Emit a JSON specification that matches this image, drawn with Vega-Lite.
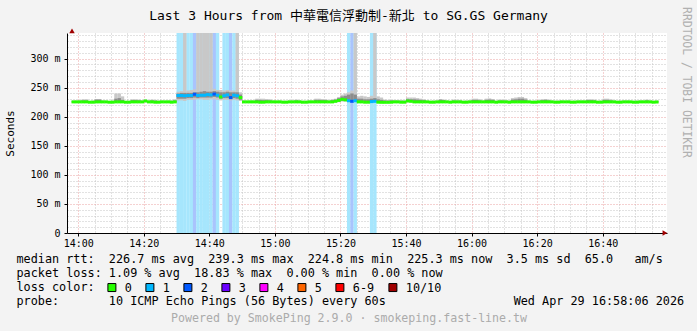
{
"$schema": "https://vega.github.io/schema/vega-lite/v6.json",
"width": 600, "height": 200,
"autosize": {"type": "none"},
"padding": {"left": 67, "top": 33, "right": 30, "bottom": 98},
"background": "#f3f3f3",
"config": {"view": {"fill": "#ffffff", "stroke": null}, "font": "DejaVu Sans Mono"},
"title": {"text": "Last 3 Hours from 中華電信浮動制-新北 to SG.GS Germany", "font": "DejaVu Sans Mono, Noto Sans CJK TC", "fontSize": 13, "fontWeight": "normal", "color": "#000000", "anchor": "middle", "frame": "group", "dx": -18.5, "offset": -16},
"datasets": {"s": [
{"t":-2,"m":225.5,"l":"0","lo":224,"hi":227.5,"a":225,"b":226.5},
{"t":-1,"m":225.5,"l":"0","lo":224,"hi":228,"a":225,"b":226.5},
{"t":0,"m":225.5,"l":"0","lo":224,"hi":228.5,"a":225,"b":226.5},
{"t":1,"m":225.5,"l":"0","lo":224,"hi":230,"a":225,"b":228},
{"t":2,"m":225.5,"l":"0","lo":224,"hi":230,"a":225,"b":228},
{"t":3,"m":225,"l":"0","lo":223.5,"hi":227,"a":224.5,"b":226},
{"t":4,"m":225,"l":"0","lo":223.5,"hi":228,"a":224.5,"b":226},
{"t":5,"m":225.5,"l":"0","lo":224,"hi":230.5,"a":225,"b":229.5},
{"t":6,"m":225.5,"l":"0","lo":224,"hi":230.5,"a":225,"b":229.5},
{"t":7,"m":225.5,"l":"0","lo":224,"hi":228,"a":225,"b":226.5},
{"t":8,"m":225.5,"l":"0","lo":224,"hi":227.5,"a":225,"b":226.5},
{"t":9,"m":225,"l":"0","lo":223.5,"hi":227,"a":224.5,"b":226},
{"t":10,"m":225,"l":"0","lo":223.5,"hi":228,"a":224.5,"b":226},
{"t":11,"m":225.5,"l":"0","lo":224,"hi":240,"a":225,"b":231},
{"t":12,"m":225.5,"l":"0","lo":224,"hi":240,"a":225,"b":232},
{"t":13,"m":225.5,"l":"0","lo":224,"hi":235,"a":225,"b":229},
{"t":14,"m":225,"l":"0","lo":223.5,"hi":227,"a":224.5,"b":226},
{"t":15,"m":225,"l":"0","lo":223.5,"hi":227.5,"a":224.5,"b":226},
{"t":16,"m":225.5,"l":"0","lo":224,"hi":230,"a":225,"b":228.5},
{"t":17,"m":225.5,"l":"0","lo":224,"hi":230,"a":225,"b":228.5},
{"t":18,"m":225.5,"l":"0","lo":224,"hi":229.5,"a":225,"b":228},
{"t":19,"m":225.5,"l":"0","lo":224,"hi":228,"a":225,"b":226.5},
{"t":20,"m":227,"l":"0","lo":225,"hi":229.5,"a":226,"b":228.5},
{"t":21,"m":225.5,"l":"0","lo":224,"hi":228,"a":225,"b":226.5},
{"t":22,"m":225.5,"l":"0","lo":224,"hi":229.5,"a":225,"b":228},
{"t":23,"m":225,"l":"0","lo":223.5,"hi":229,"a":224.5,"b":227.5},
{"t":24,"m":225,"l":"0","lo":223.5,"hi":228,"a":224.5,"b":226},
{"t":25,"m":225.5,"l":"0","lo":224,"hi":228,"a":225,"b":226.5},
{"t":26,"m":225.5,"l":"0","lo":224,"hi":227.5,"a":225,"b":226.5},
{"t":27,"m":225.5,"l":"0","lo":224,"hi":228,"a":225,"b":226.5},
{"t":28,"m":225,"l":"0","lo":223.5,"hi":228.5,"a":224.5,"b":226},
{"t":29,"m":225.5,"l":"0","lo":224,"hi":230,"a":225,"b":228},
{"t":30,"m":236.5,"l":"1","lo":228,"hi":243,"a":231,"b":240},
{"t":31,"m":236.5,"l":"1","lo":228,"hi":244,"a":231,"b":241},
{"t":32,"m":236,"l":"1","lo":227,"hi":400,"a":231,"b":241},
{"t":33,"m":236.5,"l":"1","lo":229,"hi":245,"a":232,"b":241},
{"t":34,"m":236.5,"l":"1","lo":229,"hi":246,"a":232,"b":241},
{"t":35,"m":238.5,"l":"2","lo":229,"hi":247,"a":233,"b":242},
{"t":36,"m":236.5,"l":"1","lo":230,"hi":400,"a":232,"b":242},
{"t":37,"m":237,"l":"1","lo":230,"hi":400,"a":233,"b":243},
{"t":38,"m":237,"l":"1","lo":229,"hi":400,"a":233,"b":244},
{"t":39,"m":238,"l":"1","lo":229,"hi":400,"a":233,"b":243},
{"t":40,"m":237.5,"l":"1","lo":230,"hi":400,"a":233,"b":243},
{"t":41,"m":239,"l":"2","lo":230,"hi":248,"a":234,"b":244},
{"t":42,"m":237,"l":"1","lo":229,"hi":246,"a":233,"b":243},
{"t":43,"m":234,"l":"0","lo":228,"hi":246,"a":231,"b":242},
{"t":44,"m":236,"l":"1","lo":229,"hi":245,"a":232,"b":242},
{"t":45,"m":237.5,"l":"1","lo":229,"hi":246,"a":232,"b":243},
{"t":46,"m":233,"l":"2","lo":228,"hi":245,"a":230,"b":242},
{"t":47,"m":237,"l":"1","lo":229,"hi":245,"a":232,"b":242},
{"t":48,"m":236,"l":"1","lo":228,"hi":400,"a":231,"b":242},
{"t":49,"m":233,"l":"0","lo":227,"hi":242,"a":229,"b":238},
{"t":50,"m":225.5,"l":"0","lo":224,"hi":228,"a":225,"b":226.5},
{"t":51,"m":225.5,"l":"0","lo":224,"hi":227.5,"a":225,"b":226.5},
{"t":52,"m":225.5,"l":"0","lo":224,"hi":228,"a":225,"b":226.5},
{"t":53,"m":225.5,"l":"0","lo":224,"hi":228,"a":225,"b":226.5},
{"t":54,"m":225.5,"l":"0","lo":224,"hi":231,"a":225,"b":229},
{"t":55,"m":225,"l":"0","lo":223.5,"hi":231,"a":224.5,"b":229},
{"t":56,"m":225,"l":"0","lo":223.5,"hi":231,"a":224.5,"b":228.5},
{"t":57,"m":225.5,"l":"0","lo":224,"hi":230.5,"a":225,"b":228.5},
{"t":58,"m":225.5,"l":"0","lo":224,"hi":230,"a":225,"b":228},
{"t":59,"m":225.5,"l":"0","lo":224,"hi":228,"a":225,"b":226.5},
{"t":60,"m":225.5,"l":"0","lo":224,"hi":227.5,"a":225,"b":226.5},
{"t":61,"m":225.5,"l":"0","lo":224,"hi":228,"a":225,"b":226.5},
{"t":62,"m":225,"l":"0","lo":223.5,"hi":227.5,"a":224.5,"b":226},
{"t":63,"m":225,"l":"0","lo":223.5,"hi":227.5,"a":224.5,"b":226},
{"t":64,"m":225.5,"l":"0","lo":224,"hi":228,"a":225,"b":226.5},
{"t":65,"m":225.5,"l":"0","lo":224,"hi":228,"a":225,"b":226.5},
{"t":66,"m":225.5,"l":"0","lo":224,"hi":229.5,"a":225,"b":228},
{"t":67,"m":225.5,"l":"0","lo":224,"hi":228.5,"a":225,"b":226.5},
{"t":68,"m":225,"l":"0","lo":223.5,"hi":227.5,"a":224.5,"b":226},
{"t":69,"m":225,"l":"0","lo":223.5,"hi":227.5,"a":224.5,"b":226},
{"t":70,"m":225.5,"l":"0","lo":224,"hi":228,"a":225,"b":226.5},
{"t":71,"m":225.5,"l":"0","lo":224,"hi":228,"a":225,"b":226.5},
{"t":72,"m":225.5,"l":"0","lo":224,"hi":231,"a":225,"b":229},
{"t":73,"m":225.5,"l":"0","lo":224,"hi":231,"a":225,"b":229},
{"t":74,"m":225.5,"l":"0","lo":224,"hi":230.5,"a":225,"b":228.5},
{"t":75,"m":225.5,"l":"0","lo":224,"hi":230,"a":225,"b":228.5},
{"t":76,"m":225.5,"l":"0","lo":224,"hi":228,"a":225,"b":226.5},
{"t":77,"m":225.5,"l":"0","lo":224,"hi":230,"a":225,"b":228.5},
{"t":78,"m":226.5,"l":"0","lo":225,"hi":231,"a":226,"b":229.5},
{"t":79,"m":228,"l":"0","lo":225,"hi":234,"a":226,"b":232},
{"t":80,"m":230,"l":"0","lo":226,"hi":238,"a":227.5,"b":235},
{"t":81,"m":229,"l":"0","lo":226,"hi":240,"a":228,"b":236},
{"t":82,"m":227.5,"l":"1","lo":225,"hi":242,"a":227,"b":238},
{"t":83,"m":226.5,"l":"2","lo":225,"hi":245,"a":226.5,"b":240},
{"t":84,"m":227.5,"l":"1","lo":225,"hi":400,"a":227,"b":238},
{"t":85,"m":225.5,"l":"0","lo":224,"hi":235,"a":225,"b":231},
{"t":86,"m":225.5,"l":"0","lo":224,"hi":236,"a":225,"b":231},
{"t":87,"m":225,"l":"0","lo":223.5,"hi":235,"a":224.5,"b":230},
{"t":88,"m":225,"l":"0","lo":223.5,"hi":234,"a":224.5,"b":230},
{"t":89,"m":226,"l":"1","lo":224.5,"hi":236,"a":225.5,"b":231},
{"t":90,"m":226.5,"l":"1","lo":225,"hi":400,"a":226,"b":232},
{"t":91,"m":225,"l":"0","lo":223.5,"hi":235,"a":224.5,"b":230},
{"t":92,"m":224.8,"l":"0","lo":223.5,"hi":233,"a":224.5,"b":229},
{"t":93,"m":224.8,"l":"0","lo":223.5,"hi":229.5,"a":224.5,"b":228},
{"t":94,"m":224.8,"l":"0","lo":223.5,"hi":229,"a":224.5,"b":227.5},
{"t":95,"m":225,"l":"0","lo":223.5,"hi":229,"a":224.5,"b":228},
{"t":96,"m":225.5,"l":"0","lo":224,"hi":229,"a":225,"b":227},
{"t":97,"m":225.5,"l":"0","lo":224,"hi":228.5,"a":225,"b":226.5},
{"t":98,"m":225,"l":"0","lo":223.5,"hi":229,"a":224.5,"b":227},
{"t":99,"m":225,"l":"0","lo":223.5,"hi":228.5,"a":224.5,"b":226},
{"t":100,"m":227,"l":"0","lo":225,"hi":233,"a":226,"b":230},
{"t":101,"m":226.5,"l":"0","lo":225,"hi":233,"a":226,"b":230},
{"t":102,"m":225.5,"l":"0","lo":224,"hi":233,"a":225,"b":230},
{"t":103,"m":225.5,"l":"0","lo":224,"hi":232,"a":225,"b":229.5},
{"t":104,"m":225.5,"l":"0","lo":224,"hi":231,"a":225,"b":229},
{"t":105,"m":225.5,"l":"0","lo":224,"hi":230,"a":225,"b":228.5},
{"t":106,"m":225.5,"l":"0","lo":224,"hi":228,"a":225,"b":226.5},
{"t":107,"m":225,"l":"0","lo":223.5,"hi":227.5,"a":224.5,"b":226},
{"t":108,"m":225,"l":"0","lo":223.5,"hi":228,"a":224.5,"b":226},
{"t":109,"m":225.5,"l":"0","lo":224,"hi":228,"a":225,"b":226.5},
{"t":110,"m":225.5,"l":"0","lo":224,"hi":230,"a":225,"b":229.5},
{"t":111,"m":225.5,"l":"0","lo":224,"hi":229.5,"a":225,"b":228.5},
{"t":112,"m":225.5,"l":"0","lo":224,"hi":228,"a":225,"b":226.5},
{"t":113,"m":225,"l":"0","lo":223.5,"hi":227.5,"a":224.5,"b":226},
{"t":114,"m":225.5,"l":"0","lo":224,"hi":229.5,"a":225,"b":227.5},
{"t":115,"m":225.5,"l":"0","lo":224,"hi":229.5,"a":225,"b":227},
{"t":116,"m":225.5,"l":"0","lo":224,"hi":229,"a":225,"b":227},
{"t":117,"m":225,"l":"0","lo":223.5,"hi":227.5,"a":224.5,"b":226},
{"t":118,"m":225,"l":"0","lo":223.5,"hi":228,"a":224.5,"b":226},
{"t":119,"m":225.5,"l":"0","lo":224,"hi":228,"a":225,"b":226.5},
{"t":120,"m":225.5,"l":"0","lo":224,"hi":231,"a":225,"b":229},
{"t":121,"m":225.5,"l":"0","lo":224,"hi":231,"a":225,"b":229},
{"t":122,"m":225.5,"l":"0","lo":224,"hi":230,"a":225,"b":228},
{"t":123,"m":225.5,"l":"0","lo":224,"hi":228,"a":225,"b":226.5},
{"t":124,"m":225.5,"l":"0","lo":224,"hi":231,"a":225,"b":229},
{"t":125,"m":225.5,"l":"0","lo":224,"hi":231.5,"a":225,"b":229.5},
{"t":126,"m":225.5,"l":"0","lo":224,"hi":230.5,"a":225,"b":229},
{"t":127,"m":225,"l":"0","lo":223.5,"hi":227.5,"a":224.5,"b":226},
{"t":128,"m":225.5,"l":"0","lo":224,"hi":229.5,"a":225,"b":227.5},
{"t":129,"m":225.5,"l":"0","lo":224,"hi":229.5,"a":225,"b":227.5},
{"t":130,"m":225.5,"l":"0","lo":224,"hi":229,"a":225,"b":227},
{"t":131,"m":225,"l":"0","lo":223.5,"hi":228,"a":224.5,"b":226},
{"t":132,"m":225.5,"l":"0","lo":224,"hi":232,"a":225,"b":229.5},
{"t":133,"m":225.5,"l":"0","lo":224,"hi":233,"a":225,"b":230},
{"t":134,"m":225.5,"l":"0","lo":224,"hi":234,"a":225,"b":231},
{"t":135,"m":225.5,"l":"0","lo":224,"hi":234,"a":225,"b":231},
{"t":136,"m":225.5,"l":"0","lo":224,"hi":232,"a":225,"b":229.5},
{"t":137,"m":225.5,"l":"0","lo":224,"hi":228,"a":225,"b":226.5},
{"t":138,"m":225,"l":"0","lo":223.5,"hi":227.5,"a":224.5,"b":226},
{"t":139,"m":225,"l":"0","lo":223.5,"hi":228,"a":224.5,"b":226},
{"t":140,"m":225.5,"l":"0","lo":224,"hi":228,"a":225,"b":226.5},
{"t":141,"m":225.5,"l":"0","lo":224,"hi":230,"a":225,"b":228.5},
{"t":142,"m":225.5,"l":"0","lo":224,"hi":230.5,"a":225,"b":229},
{"t":143,"m":225.5,"l":"0","lo":224,"hi":229.5,"a":225,"b":228},
{"t":144,"m":225.5,"l":"0","lo":224,"hi":228,"a":225,"b":226.5},
{"t":145,"m":225,"l":"0","lo":223.5,"hi":227.5,"a":224.5,"b":226},
{"t":146,"m":225,"l":"0","lo":223.5,"hi":228,"a":224.5,"b":226},
{"t":147,"m":225.5,"l":"0","lo":224,"hi":228,"a":225,"b":226.5},
{"t":148,"m":225.5,"l":"0","lo":224,"hi":227.5,"a":225,"b":226.5},
{"t":149,"m":225.5,"l":"0","lo":224,"hi":228,"a":225,"b":226.5},
{"t":150,"m":225,"l":"0","lo":223.5,"hi":227.5,"a":224.5,"b":226},
{"t":151,"m":225,"l":"0","lo":223.5,"hi":228,"a":224.5,"b":226},
{"t":152,"m":225.5,"l":"0","lo":224,"hi":228,"a":225,"b":226.5},
{"t":153,"m":225.5,"l":"0","lo":224,"hi":228,"a":225,"b":226.5},
{"t":154,"m":225.5,"l":"0","lo":224,"hi":228,"a":225,"b":226.5},
{"t":155,"m":225.5,"l":"0","lo":224,"hi":230,"a":225,"b":228.5},
{"t":156,"m":225.5,"l":"0","lo":224,"hi":230,"a":225,"b":228.5},
{"t":157,"m":225.5,"l":"0","lo":224,"hi":229.5,"a":225,"b":228},
{"t":158,"m":225,"l":"0","lo":223.5,"hi":227.5,"a":224.5,"b":226},
{"t":159,"m":225,"l":"0","lo":223.5,"hi":228,"a":224.5,"b":226},
{"t":160,"m":225.5,"l":"0","lo":224,"hi":231,"a":225,"b":229},
{"t":161,"m":225.5,"l":"0","lo":224,"hi":231,"a":225,"b":229},
{"t":162,"m":225.5,"l":"0","lo":224,"hi":230,"a":225,"b":228},
{"t":163,"m":225.5,"l":"0","lo":224,"hi":228,"a":225,"b":226.5},
{"t":164,"m":225,"l":"0","lo":223.5,"hi":227.5,"a":224.5,"b":226},
{"t":165,"m":225,"l":"0","lo":223.5,"hi":228,"a":224.5,"b":226},
{"t":166,"m":225.5,"l":"0","lo":224,"hi":228,"a":225,"b":226.5},
{"t":167,"m":225.5,"l":"0","lo":224,"hi":228,"a":225,"b":226.5},
{"t":168,"m":225.5,"l":"0","lo":224,"hi":227.5,"a":225,"b":226.5},
{"t":169,"m":225,"l":"0","lo":223.5,"hi":227.5,"a":224.5,"b":226},
{"t":170,"m":225,"l":"0","lo":223.5,"hi":228,"a":224.5,"b":226},
{"t":171,"m":225.5,"l":"0","lo":224,"hi":228,"a":225,"b":226.5},
{"t":172,"m":225.5,"l":"0","lo":224,"hi":228,"a":225,"b":226.5},
{"t":173,"m":225.5,"l":"0","lo":224,"hi":229.5,"a":225,"b":228},
{"t":174,"m":225.5,"l":"0","lo":224,"hi":228,"a":225,"b":226.5},
{"t":175,"m":225,"l":"0","lo":223.5,"hi":227.5,"a":224.5,"b":226},
{"t":176,"m":225.3,"l":"0","lo":224,"hi":228,"a":225,"b":226.5}
]},
"data": {"name": "s"},
"layer": [
{
"transform": [{"filter": "datum.l != '0'"}],
"mark": {"type": "bar", "width": 3.4, "xOffset": 1.667, "clip": true},
"encoding": {
"x": {"field": "t", "type": "quantitative", "scale": {"domain": [-1.9, 178.1], "nice": false, "zero": false},
"axis": {"orient": "bottom", "values": [5,10,15,25,30,35,45,50,55,65,70,75,85,90,95,105,110,115,125,130,135,145,150,155,165,170,175], "grid": true, "gridColor": "#c4c4c4", "gridDash": [1,2], "gridWidth": 1, "labels": false, "ticks": false, "domain": false, "title": null}},
"y": {"datum": 0, "type": "quantitative", "scale": {"domain": [0, 344], "nice": false}, "axis": null},
"y2": {"datum": 344},
"fill": {"field": "l", "type": "nominal", "scale": {"domain": ["1","2"], "range": ["#a6e6fd","#a9c4fd"]}, "legend": null}
}
},
{
"mark": {"type": "bar", "width": 3.4, "xOffset": 1.667, "clip": true, "color": "#c8c8c8"},
"encoding": {
"x": {"field": "t", "type": "quantitative",
"axis": {"orient": "bottom", "values": [0,20,40,60,80,100,120,140,160], "labelExpr": "(14 + floor(datum.value / 60)) + ':' + (datum.value % 60 < 10 ? '0' : '') + (datum.value % 60)", "grid": true, "gridColor": "#eba3a3", "gridDash": [1,2], "gridWidth": 1, "ticks": true, "tickSize": 3, "tickColor": "#000000", "domain": true, "domainColor": "#000000", "labelFont": "DejaVu Sans Mono", "labelFontSize": 10, "labelColor": "#000000", "labelPadding": 2, "labelFlush": false, "labelOverlap": false, "title": null}},
"y": {"field": "lo", "type": "quantitative",
"axis": {"orient": "left", "values": [10,20,30,40,60,70,80,90,110,120,130,140,160,170,180,190,210,220,230,240,260,270,280,290,310,320,330,340], "grid": true, "gridColor": "#c4c4c4", "gridDash": [1,2], "gridWidth": 1, "labels": false, "ticks": false, "domain": false, "title": null}},
"y2": {"field": "hi"}
}
},
{
"mark": {"type": "bar", "width": 3.4, "xOffset": 1.667, "clip": true, "color": "#8c8c8c"},
"encoding": {
"x": {"field": "t", "type": "quantitative",
"axis": {"orient": "bottom", "labels": false, "ticks": false, "domain": false, "grid": false,
"title": ["median rtt:\u00a0\u00a0226.7\u00a0ms\u00a0avg\u00a0\u00a0239.3\u00a0ms\u00a0max\u00a0\u00a0224.8\u00a0ms\u00a0min\u00a0\u00a0225.3\u00a0ms\u00a0now\u00a0\u00a03.5\u00a0ms\u00a0sd\u00a0\u00a065.0\u00a0\u00a0\u00a0am/s", "packet loss:\u00a01.09\u00a0%\u00a0avg\u00a0\u00a018.83\u00a0%\u00a0max\u00a0\u00a00.00\u00a0%\u00a0min\u00a0\u00a00.00\u00a0%\u00a0now", "loss color:", "probe:\u00a0\u00a0\u00a0\u00a0\u00a0\u00a0\u00a010\u00a0ICMP\u00a0Echo\u00a0Pings\u00a0(56\u00a0Bytes)\u00a0every\u00a060s\u00a0\u00a0\u00a0\u00a0\u00a0\u00a0\u00a0\u00a0\u00a0\u00a0\u00a0\u00a0\u00a0\u00a0\u00a0\u00a0\u00a0\u00a0Wed\u00a0Apr\u00a029\u00a016:58:06\u00a02026"],
"titleX": -51, "titleY": 20, "titleAlign": "left", "titleBaseline": "top", "titleFont": "DejaVu Sans Mono", "titleFontSize": 11.8, "titleFontWeight": "normal", "titleColor": "#000000", "titleLineHeight": 14}},
"y": {"field": "a", "type": "quantitative",
"axis": {"orient": "left", "values": [0,50,100,150,200,250,300], "labelExpr": "datum.value == 0 ? '0' : datum.value + ' m'", "grid": true, "gridColor": "#eba3a3", "gridDash": [1,2], "gridWidth": 1, "ticks": true, "tickSize": 3, "tickColor": "#000000", "domain": true, "domainColor": "#000000", "labelFont": "DejaVu Sans Mono", "labelFontSize": 10, "labelColor": "#000000", "labelPadding": 4, "labelFlush": false, "labelOverlap": false,
"title": "Seconds", "titleFont": "DejaVu Sans Mono", "titleFontSize": 11, "titleFontWeight": "normal", "titleColor": "#000000", "titleX": -57, "titleY": 100, "titleAngle": 270, "titleAlign": "center", "titleBaseline": "middle"}},
"y2": {"field": "b"}
}
},
{
"mark": {"type": "tick", "orient": "horizontal", "size": 3.6, "thickness": 3, "xOffset": 1.667, "opacity": 1},
"encoding": {
"x": {"field": "t", "type": "quantitative",
"axis": {"orient": "bottom", "labels": false, "ticks": false, "domain": false, "grid": false, "title": "Powered by SmokePing 2.9.0 · smokeping.fast-line.tw", "titleX": 281.5, "titleY": 85, "titleAlign": "center", "titleBaseline": "middle", "titleFont": "DejaVu Sans Mono", "titleFontSize": 11.6, "titleFontWeight": "normal", "titleColor": "#ababab"}},
"y": {"field": "m", "type": "quantitative",
"axis": {"orient": "right", "labels": false, "ticks": false, "domain": false, "grid": false, "title": "RRDTOOL / TOBI OETIKER", "titleAngle": 90, "titleX": 18, "titleY": 49, "titleAlign": "center", "titleBaseline": "middle", "titleFont": "DejaVu Sans Mono", "titleFontSize": 11.4, "titleFontWeight": "normal", "titleColor": "#b0b0b0"}},
"color": {"field": "l", "type": "nominal",
"scale": {"domain": ["0","1","2","3","4","5","6-9","10/10"], "range": ["#26ff00","#00b8ff","#0059ff","#6a00ff","#ff00ff","#ff6600","#ff0000","#a00000"]},
"legend": {"orient": "none", "legendX": 39, "legendY": 248.5, "direction": "horizontal", "title": null, "labelFont": "DejaVu Sans Mono", "labelFontSize": 11.8, "labelColor": "#000000", "labelOffset": 7, "columnPadding": 11, "symbolType": "square", "symbolSize": 64, "symbolStrokeColor": "#000000", "symbolStrokeWidth": 1, "symbolOpacity": 1, "padding": 0}}
}
},
{
"data": {"values": [{"k": "up"}]},
"mark": {"type": "point", "shape": "triangle-up", "filled": true, "color": "#a00000", "size": 30, "opacity": 1},
"encoding": {"x": {"datum": -1.9, "type": "quantitative", "axis": null}, "y": {"datum": 347.5, "type": "quantitative", "axis": null}}
},
{
"data": {"values": [{"k": "right"}]},
"mark": {"type": "point", "shape": "triangle-right", "filled": true, "color": "#a00000", "size": 30, "opacity": 1},
"encoding": {"x": {"datum": 179, "type": "quantitative", "axis": null}, "y": {"datum": 0, "type": "quantitative", "axis": null}}
}
],
"resolve": {"axis": {"x": "independent", "y": "independent"}}
}
